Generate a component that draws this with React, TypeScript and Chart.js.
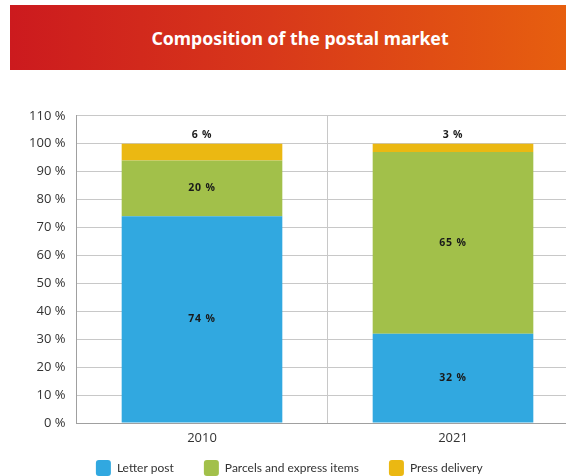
import React, { useEffect, useRef } from "react";
import { Chart, registerables } from "chart.js";

Chart.register(...registerables);

const categories = ["2010", "2021"];
const letterPost = [74, 32];
const parcels = [20, 65];
const press = [6, 3];
const yTicks = [0, 10, 20, 30, 40, 50, 60, 70, 80, 90, 100, 110];

const seriesNames = ["Letter post", "Parcels and express items", "Press delivery"];
const seriesColors = ["#31a8e0", "#a2c04a", "#ebb812"];

const labelPlugin = {
  id: "barLabels",
  afterDatasetsDraw(chart: any) {
    const ctx = chart.ctx;
    ctx.save();
    ctx.font = "bold 10.5px 'Open Sans', sans-serif";
    (ctx as any).letterSpacing = "0.8px";
    ctx.fillStyle = "#1a1a1a";
    ctx.textAlign = "center";
    ctx.textBaseline = "middle";
    chart.data.datasets.forEach((ds: any, di: number) => {
      const meta = chart.getDatasetMeta(di);
      meta.data.forEach((bar: any, i: number) => {
        const v = ds.data[i];
        const top = Math.min(bar.y, bar.base);
        const bottom = Math.max(bar.y, bar.base);
        const y = v < 10 ? top - 9 : (top + bottom) / 2;
        ctx.fillText(v + " %", bar.x, y);
      });
    });
    ctx.restore();
  },
};

// move the legend closer to the axis labels (its top padding is only empty space)
const legendShift = {
  id: "legendShift",
  afterLayout(chart: any) {
    const l = chart.legend;
    if (!l) return;
    const h = l.height;
    l.top = chart.chartArea.bottom + 7;
    l.bottom = l.top + h;
  },
};

export default function App() {
  const ref = useRef<HTMLCanvasElement>(null);
  useEffect(() => {
    if (!ref.current) return;
    const chart = new Chart(ref.current, {
      type: "bar",
      data: {
        labels: categories,
        datasets: [letterPost, parcels, press].map((d, i) => ({
          label: seriesNames[i],
          data: d,
          backgroundColor: seriesColors[i],
          borderWidth: 0,
          categoryPercentage: 0.8,
          barPercentage: 0.8,
        })),
      },
      options: {
        animation: false,
        responsive: false,
        maintainAspectRatio: false,
        layout: { padding: { top: 5, right: 21.5, left: 0, bottom: 0 } },
        scales: {
          x: {
            stacked: true,
            grid: { display: true, color: "#c8c8c8", drawTicks: false, offset: true },
            border: { color: "#a0a0a0" },
            ticks: { font: { size: 13, family: "'Open Sans', sans-serif" }, color: "#333", padding: 7 },
            afterFit: (s: any) => {
              s.height = 25;
            },
          },
          y: {
            stacked: true,
            min: 0,
            max: 110,
            afterBuildTicks: (s: any) => {
              s.ticks = yTicks.map((v) => ({ value: v }));
            },
            afterFit: (s: any) => {
              s.width = 76.5;
            },
            grid: { color: "#c8c8c8", drawTicks: false },
            border: { color: "#a0a0a0" },
            ticks: {
              font: { size: 13, family: "'Open Sans', sans-serif" },
              color: "#333",
              padding: 11,
              callback: (v: any) => v + " %",
            },
          },
        },
        plugins: {
          legend: {
            position: "bottom",
            labels: {
              boxWidth: 15,
              boxHeight: 16,
              useBorderRadius: true,
              borderRadius: 3,
              padding: 30,
              color: "#333",
              font: { size: 12, family: "Lato, sans-serif" },
            },
          },
          tooltip: { enabled: false },
        },
      },
      plugins: [labelPlugin, legendShift],
    });
    return () => chart.destroy();
  }, []);

  return (
    <div style={{ position: "fixed", left: 0, top: 0, width: 566, height: 476, overflow: "hidden", background: "#fff" }}>
      <div
        style={{
          position: "absolute",
          left: 10,
          top: 5,
          width: 580,
          height: 65,
          background: "linear-gradient(90deg, #cc1a1e 0%, #d8381a 45%, #e8620e 100%)",
          color: "#fff",
          fontFamily: "'Noto Sans', sans-serif",
          fontWeight: 700,
          fontSize: 17.7,
          display: "flex",
          alignItems: "center",
          justifyContent: "center",
        }}
      >
        Composition of the postal market
      </div>
      <canvas ref={ref} width={600} height={407} style={{ position: "absolute", left: 0, top: 97, width: 600, height: 407 }} />
    </div>
  );
}
